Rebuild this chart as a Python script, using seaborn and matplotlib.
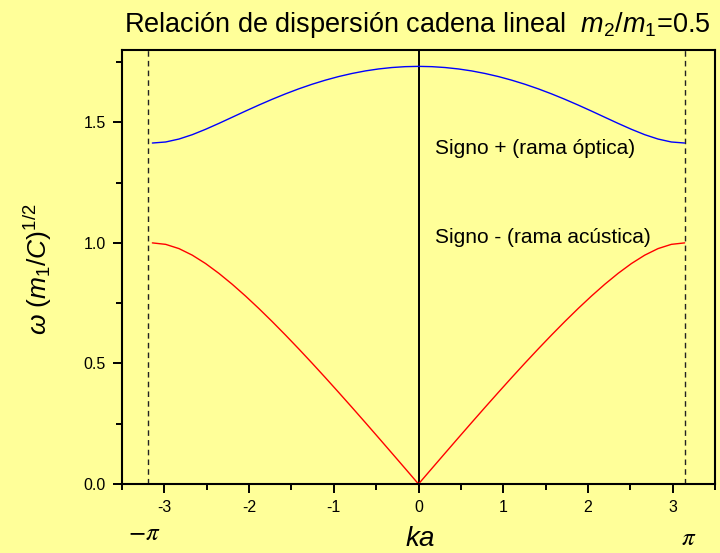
import numpy as np
import pandas as pd
import matplotlib
matplotlib.use("Agg")
import matplotlib.pyplot as plt
from matplotlib.ticker import MultipleLocator
import seaborn as sns

# Wave number times lattice spacing, from -pi to pi
ka = [-3.1416, -2.9845, -2.8274, -2.6704, -2.5133, -2.3562, -2.1991, -2.0420,
      -1.8850, -1.7279, -1.5708, -1.4137, -1.2566, -1.0996, -0.9425, -0.7854,
      -0.6283, -0.4712, -0.3142, -0.1571, 0.0,
      0.1571, 0.3142, 0.4712, 0.6283, 0.7854, 0.9425, 1.0996, 1.2566, 1.4137,
      1.5708, 1.7279, 1.8850, 2.0420, 2.1991, 2.3562, 2.5133, 2.6704, 2.8274,
      2.9845, 3.1416]

# Optical branch (sign +)
omega_optica = [1.4142, 1.4185, 1.4307, 1.4488, 1.4711, 1.4956, 1.5211, 1.5467,
                1.5716, 1.5955, 1.6180, 1.6389, 1.6579, 1.6749, 1.6899, 1.7026,
                1.7132, 1.7214, 1.7273, 1.7309, 1.7321,
                1.7309, 1.7273, 1.7214, 1.7132, 1.7026, 1.6899, 1.6749, 1.6579,
                1.6389, 1.6180, 1.5955, 1.5716, 1.5467, 1.5211, 1.4956, 1.4711,
                1.4488, 1.4307, 1.4185, 1.4142]

# Acoustic branch (sign -)
omega_acustica = [1.0000, 0.9939, 0.9763, 0.9491, 0.9143, 0.8736, 0.8284, 0.7796,
                  0.7280, 0.6740, 0.6180, 0.5604, 0.5014, 0.4412, 0.3799, 0.3179,
                  0.2551, 0.1918, 0.1281, 0.0641, 0.0,
                  0.0641, 0.1281, 0.1918, 0.2551, 0.3179, 0.3799, 0.4412, 0.5014,
                  0.5604, 0.6180, 0.6740, 0.7280, 0.7796, 0.8284, 0.8736, 0.9143,
                  0.9491, 0.9763, 0.9939, 1.0000]

zone_edges = [-3.19, 3.1416]
x_ticks = [-3, -2, -1, 0, 1, 2, 3]
y_ticks = [0.0, 0.5, 1.0, 1.5]

df = pd.DataFrame({"ka": ka, "optica": omega_optica, "acustica": omega_acustica})

sns.set_theme(style="ticks")
bg = "#FFFF99"
plt.rcParams["font.family"] = ["Liberation Sans", "DejaVu Sans"]
plt.rcParams["mathtext.fontset"] = "custom"
plt.rcParams["mathtext.rm"] = "Liberation Sans"
plt.rcParams["mathtext.it"] = "Liberation Sans:italic"
plt.rcParams["mathtext.bf"] = "Liberation Sans:bold"

fig = plt.figure(figsize=(7.2, 5.53), dpi=100, facecolor=bg)
ax = fig.add_axes([122 / 720, 1 - 484 / 553, (715 - 122) / 720, (484 - 50) / 553])
ax.set_facecolor(bg)

sns.lineplot(data=df, x="ka", y="optica", color="#0000FF", lw=1.0, ax=ax,
             estimator=None, sort=False)
sns.lineplot(data=df, x="ka", y="acustica", color="#FF0000", lw=1.0, ax=ax,
             estimator=None, sort=False)

for xe in zone_edges:
    ax.axvline(xe, color="#222222", lw=1.0, ls=(0, (4, 3)), zorder=1)
ax.axvline(0, color="black", lw=1.4, zorder=1)

ax.set_xlim(-3.5, 3.5)
ax.set_ylim(0, 1.8)
ax.set_xticks(x_ticks)
ax.set_xticklabels([str(t) for t in x_ticks])
ax.set_yticks(y_ticks)
ax.set_yticklabels([f"{t:.1f}" for t in y_ticks])
ax.xaxis.set_minor_locator(MultipleLocator(0.5))
ax.yaxis.set_minor_locator(MultipleLocator(0.25))
ax.tick_params(axis="both", which="major", direction="out", length=6.5, width=1.4,
               labelsize=11.5, color="black", labelcolor="black", pad=5)
ax.tick_params(axis="both", which="minor", direction="out", length=4, width=1.4,
               color="black")
for side in ["left", "bottom", "top", "right"]:
    ax.spines[side].set_visible(True)
    ax.spines[side].set_color("black")
    ax.spines[side].set_linewidth(1.5)
ax.set_xlabel("")
ax.set_ylabel("")

fig.text(417 / 720, 1 - 25 / 553,
         r"Relación de dispersión cadena lineal  $m_2/m_1$=0.5",
         ha="center", va="center", fontsize=19.5, color="black")
fig.text(38 / 720, 1 - 269 / 553, r"$\omega\ (m_1/C)^{1/2}$", rotation=90,
         ha="center", va="center", fontsize=19, color="black")
fig.text(420 / 720, 1 / 553, r"$ka$", ha="center", va="bottom",
         fontsize=20, color="black")
fig.text(144 / 720, 1 - 533 / 553, r"$-\pi$", ha="center", va="center",
         fontsize=18, color="black", math_fontfamily="stix")
fig.text(689 / 720, 1 - 538 / 553, r"$\pi$", ha="center", va="center",
         fontsize=18, color="black", math_fontfamily="stix")

ax.text(0.19, 1.393, "Signo + (rama óptica)", ha="left", va="center",
        fontsize=15, color="black")
ax.text(0.19, 1.024, "Signo - (rama acústica)", ha="left", va="center",
        fontsize=15, color="black")

fig.savefig("out.png", dpi=100, facecolor=bg)
